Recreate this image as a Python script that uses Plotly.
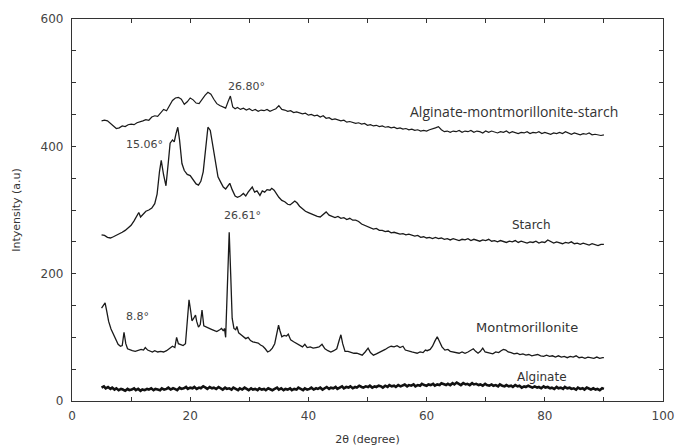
import plotly.graph_objects as go

# ---------------- data ----------------
ams_x = [5.0,5.5,6.0,6.5,7.0,7.5,8.0,8.5,9.0,9.5,10.0,10.5,11.0,11.5,12.0,12.5,13.0,13.5,14.0,14.5,
         15.0,15.5,16.0,16.5,17.0,17.5,18.0,18.5,19.0,19.5,20.0,20.5,21.0,21.5,22.0,22.5,23.0,23.5,24.0,24.5,
         25.0,25.5,26.0,26.4,26.8,27.2,27.6,28.0,28.5,29.0,29.5,30.0,30.5,31.0,31.5,32.0,32.5,33.0,33.5,34.0,
         34.5,35.0,35.5,36.0,36.5,37.0,37.5,38.0,38.5,39.0,39.5,40.0,40.5,41.0,41.5,42.0,42.5,43.0,43.5,44.0,
         44.5,45.0,45.5,46.0,46.5,47.0,47.5,48.0,48.5,49.0,49.5,50.0,50.5,51.0,51.5,52.0,52.5,53.0,53.5,54.0,
         54.5,55.0,55.5,56.0,56.5,57.0,57.5,58.0,58.5,59.0,59.5,60.0,60.5,61.0,61.5,62.0,62.5,63.0,63.5,64.0,
         64.5,65.0,65.5,66.0,66.5,67.0,67.5,68.0,68.5,69.0,69.5,70.0,70.5,71.0,71.5,72.0,72.5,73.0,73.5,74.0,
         74.5,75.0,75.5,76.0,76.5,77.0,77.5,78.0,78.5,79.0,79.5,80.0,80.5,81.0,81.5,82.0,82.5,83.0,83.5,84.0,
         84.5,85.0,85.5,86.0,86.5,87.0,87.5,88.0,88.5,89.0,89.5,90.0]
ams_y = [440,441,440,436,431,428,429,432,431,434,435,434,437,438,440,442,441,446,448,447,
         453,458,456,465,472,476,477,474,466,470,476,473,468,467,474,480,485,482,474,467,
         464,462,460,470,479,462,459,461,458,460,457,459,456,458,455,457,456,458,455,457,
         459,464,458,457,455,456,453,454,452,451,452,449,450,448,449,446,448,444,445,442,
         443,441,440,441,438,439,437,436,437,435,436,433,434,432,433,431,432,430,431,429,
         430,428,429,427,428,426,427,425,426,424,425,424,426,427,429,431,426,423,424,422,
         424,423,425,422,424,423,425,422,424,423,421,424,422,424,423,421,423,422,424,421,
         423,422,420,422,421,423,420,422,421,423,420,422,421,419,421,420,422,420,423,421,
         419,421,420,418,420,419,421,418,419,418,417,418]

starch_x = [5.0,5.5,6.0,6.5,7.0,7.5,8.0,8.5,9.0,9.5,10.0,10.5,11.0,11.3,11.6,12.0,12.5,13.0,13.5,14.0,
            14.4,14.8,15.1,15.5,15.9,16.3,16.6,17.0,17.3,17.6,17.9,18.2,18.6,19.0,19.5,20.0,20.5,21.0,21.4,21.8,
            22.2,22.6,23.0,23.4,23.9,24.3,24.7,25.2,25.6,26.0,26.4,26.7,27.1,27.6,28.0,28.5,29.0,29.4,29.8,30.2,
            30.5,30.9,31.3,31.8,32.2,32.6,33.0,33.5,33.8,34.2,34.6,35.0,35.5,36.0,36.5,36.9,37.3,37.7,38.1,38.5,
            39.0,39.5,40.0,40.5,41.0,41.5,42.0,42.5,43.0,43.5,44.0,44.5,45.0,45.5,46.0,46.5,47.0,47.5,48.0,48.5,
            49.0,49.5,50.0,50.5,51.0,51.5,52.0,52.5,53.0,53.5,54.0,54.5,55.0,55.5,56.0,56.5,57.0,57.5,58.0,58.5,
            59.0,59.5,60.0,60.5,61.0,61.5,62.0,62.5,63.0,63.5,64.0,64.5,65.0,65.5,66.0,66.5,67.0,67.5,68.0,68.5,
            69.0,69.5,70.0,70.5,71.0,71.5,72.0,72.5,73.0,73.5,74.0,74.5,75.0,75.5,76.0,76.5,77.0,77.5,78.0,78.5,
            79.0,79.5,80.0,80.5,81.0,81.5,82.0,82.5,83.0,83.5,84.0,84.5,85.0,85.5,86.0,86.5,87.0,87.5,88.0,88.5,
            89.0,89.5,90.0]
starch_y = [261,260,257,256,258,260,262,265,268,272,276,283,290,296,289,293,298,300,303,310,
            325,360,378,355,338,375,405,410,407,420,430,410,373,362,356,354,348,341,339,345,
            360,400,430,425,394,370,352,343,336,333,338,342,332,322,320,322,326,322,328,332,
            336,328,330,323,330,328,332,331,334,331,325,320,315,313,309,308,311,314,311,306,
            302,298,296,294,291,290,289,293,297,292,290,288,290,287,288,285,287,284,284,282,
            278,276,274,272,270,271,268,268,266,267,264,265,263,262,263,261,262,260,259,260,
            257,258,256,257,255,257,255,256,254,255,253,255,254,252,254,253,255,252,254,253,
            251,253,252,254,251,252,250,252,251,249,251,250,252,249,251,250,248,250,249,251,
            248,250,249,253,250,248,250,249,247,249,248,250,247,248,246,248,247,245,247,246,
            244,246,246]

mont_x = [5.0,5.3,5.6,5.9,6.2,6.6,7.0,7.4,7.8,8.2,8.5,8.8,9.1,9.4,9.8,10.2,10.7,11.2,11.7,12.1,
          12.4,12.8,13.2,13.6,14.0,14.5,15.0,15.5,16.0,16.5,17.0,17.4,17.7,18.0,18.4,18.8,19.2,19.5,19.8,20.1,
          20.3,20.6,20.9,21.1,21.4,21.7,22.0,22.3,22.7,23.1,23.5,24.0,24.5,25.0,25.3,25.6,25.8,26.0,26.3,26.6,
          26.85,27.1,27.4,27.7,27.9,28.2,28.6,29.0,29.4,29.8,30.2,30.6,31.0,31.5,31.9,32.3,32.7,33.1,33.5,33.9,
          34.3,34.7,34.95,35.2,35.5,35.9,36.3,36.6,37.0,37.5,38.0,38.5,39.0,39.4,39.8,40.3,40.8,41.3,41.8,42.3,
          42.8,43.3,43.8,44.3,44.8,45.2,45.5,45.8,46.2,46.7,47.2,47.7,48.2,48.7,49.1,49.6,50.1,50.5,51.0,51.5,
          52.0,52.5,53.0,53.5,54.0,54.5,55.0,55.5,56.0,56.4,57.0,57.5,58.0,58.4,58.9,59.4,59.8,60.1,60.6,61.0,
          61.4,61.8,62.2,62.6,63.1,63.6,64.0,64.5,65.0,65.5,66.0,66.5,67.0,67.5,67.9,68.3,68.7,69.1,69.5,69.9,
          70.4,70.8,71.2,71.7,72.2,72.6,73.0,73.4,73.8,74.3,74.8,75.3,75.8,76.3,76.8,77.3,77.8,78.3,78.8,79.3,
          79.8,80.3,80.8,81.3,81.8,82.3,82.8,83.3,83.8,84.3,84.8,85.3,85.8,86.3,86.8,87.3,87.8,88.3,88.8,89.3,
          89.8,90.0]
mont_y = [146,150,154,140,125,113,104,95,89,86,87,108,90,82,80,79,78,79,81,80,
          84,80,78,77,79,77,78,77,79,82,86,84,100,90,88,87,90,130,159,140,
          126,130,135,125,116,120,143,118,116,114,113,111,109,112,114,110,114,100,180,265,
          200,130,114,112,117,107,104,101,98,100,95,93,92,91,88,86,82,77,79,83,
          90,105,119,110,101,103,102,105,96,93,90,87,85,89,84,85,83,84,85,89,
          82,79,77,79,82,95,104,90,78,78,76,75,75,73,72,77,83,76,72,74,
          76,78,81,84,86,85,87,84,86,80,78,77,76,75,77,76,80,79,81,86,
          94,101,93,85,80,81,78,77,76,75,77,75,77,80,82,78,75,78,83,77,
          76,75,74,77,76,79,81,80,77,76,74,75,73,74,72,73,71,72,73,71,
          70,72,70,71,69,71,69,70,68,70,69,71,68,69,67,69,68,67,69,67,
          68,68]

alg_x = [5.0,5.4,5.7,6.1,6.5,6.8,7.2,7.5,7.9,8.3,8.6,9.0,9.4,9.7,10.1,10.5,10.8,11.2,11.6,11.9,
         12.3,12.7,13.0,13.4,13.8,14.1,14.5,14.9,15.2,15.6,16.0,16.3,16.7,17.1,17.4,17.8,18.2,18.5,18.9,19.3,
         19.6,20.0,20.4,20.7,21.1,21.5,21.8,22.2,22.6,22.9,23.3,23.7,24.0,24.4,24.8,25.1,25.5,25.9,26.2,26.6,
         27.0,27.3,27.7,28.1,28.4,28.8,29.2,29.5,29.9,30.3,30.6,31.0,31.4,31.7,32.1,32.5,32.8,33.2,33.6,33.9,
         34.3,34.7,35.0,35.4,35.8,36.1,36.5,36.9,37.2,37.6,38.0,38.3,38.7,39.1,39.4,39.8,40.2,40.5,40.9,41.3,
         41.6,42.0,42.4,42.7,43.1,43.5,43.8,44.2,44.6,44.9,45.3,45.7,46.0,46.4,46.8,47.1,47.5,47.9,48.2,48.6,
         49.0,49.3,49.7,50.1,50.4,50.8,51.2,51.5,51.9,52.3,52.6,53.0,53.4,53.7,54.1,54.5,54.8,55.2,55.6,55.9,
         56.3,56.7,57.0,57.4,57.8,58.1,58.5,58.9,59.2,59.6,60.0,60.3,60.7,61.1,61.4,61.8,62.2,62.5,62.9,63.3,
         63.6,64.0,64.4,64.7,65.1,65.5,65.8,66.2,66.6,66.9,67.3,67.7,68.0,68.4,68.8,69.1,69.5,69.9,70.2,70.6,
         71.0,71.3,71.7,72.1,72.4,72.8,73.2,73.5,73.9,74.3,74.6,75.0,75.4,75.7,76.1,76.5,76.8,77.2,77.6,77.9,
         78.3,78.7,79.0,79.4,79.8,80.1,80.5,80.9,81.2,81.6,82.0,82.3,82.7,83.1,83.4,83.8,84.2,84.5,84.9,85.3,
         85.6,86.0,86.4,86.7,87.1,87.5,87.8,88.2,88.6,88.9,89.3,89.7,90.0]
alg_y = [21,23,20,22,19,21,18,20,17,19,18,16,19,17,18,20,17,19,16,18,
         17,19,18,20,17,19,18,17,20,18,19,21,18,20,19,17,21,19,20,22,
         19,21,20,22,19,21,20,23,21,19,22,20,21,19,22,20,18,21,19,20,
         18,21,19,17,20,18,21,19,17,20,18,19,17,20,18,19,17,20,18,17,
         19,21,18,20,17,19,18,20,17,19,18,21,19,17,20,18,19,21,18,20,
         19,21,18,20,22,19,21,20,22,19,21,23,20,22,21,23,20,22,21,24,
         22,21,23,22,24,21,23,22,24,23,21,24,22,25,23,24,22,25,23,24,
         26,23,25,24,26,23,25,24,27,25,24,26,25,27,24,26,25,28,26,25,
         27,25,28,26,29,27,25,28,26,27,25,28,26,27,25,26,24,27,25,24,
         26,24,25,23,26,24,23,25,23,24,22,25,23,24,21,23,22,24,22,21,
         23,21,22,20,23,21,22,20,21,19,22,20,21,19,22,20,21,19,20,18,
         21,19,20,18,21,19,18,20,18,19,17,20,19]

series_names = ["Alginate-montmorillonite-starch", "Starch", "Montmorillonite", "Alginate"]
peak_labels = ["26.80°", "15.06°", "26.61°", "8.8°"]

# ---------------- figure ----------------
fig = go.Figure()
line_col = "#1a1a1a"
fig.add_trace(go.Scatter(x=ams_x, y=ams_y, mode="lines", name=series_names[0],
                         line=dict(color=line_col, width=1.2)))
fig.add_trace(go.Scatter(x=starch_x, y=starch_y, mode="lines", name=series_names[1],
                         line=dict(color=line_col, width=1.3)))
fig.add_trace(go.Scatter(x=mont_x, y=mont_y, mode="lines", name=series_names[2],
                         line=dict(color=line_col, width=1.3)))
fig.add_trace(go.Scatter(x=alg_x, y=alg_y, mode="lines", name=series_names[3],
                         line=dict(color="#111111", width=2.6)))

lab_font = dict(family="DejaVu Sans", size=11, color="#444444")

# peak annotations
for txt, (ax, ay) in zip(peak_labels, [(29.5, 494), (12.3, 403), (28.9, 292), (11.0, 132)]):
    fig.add_annotation(x=ax, y=ay, text=txt, showarrow=False, font=lab_font)

# series name annotations
for txt, (ax, ay), fam, fs in zip(series_names,
                                  [(74.8, 454), (77.8, 276), (77.0, 115), (79.5, 38)],
                                  ["Open Sans", "DejaVu Sans", "DejaVu Sans", "DejaVu Sans"],
                                  [14, 12, 13, 12]):
    fig.add_annotation(x=ax, y=ay, text=txt, showarrow=False,
                       font=dict(family=fam, size=fs, color="#333333"))

axis_common = dict(
    showgrid=False, zeroline=False, showline=True, linecolor="#333333", linewidth=1.3,
    mirror="ticks", ticks="inside", ticklen=4, tickcolor="#333333", tickwidth=1,
    tickfont=dict(family="DejaVu Sans", size=12, color="#444444"),
    automargin=False,
)

fig.update_xaxes(range=[0, 100], dtick=20, tick0=0, ticklabelstandoff=3,
                 minor=dict(dtick=10, ticks="inside", ticklen=4, tickcolor="#333333"),
                 title=dict(text="2θ (degree)", font=dict(family="DejaVu Sans", size=11, color="#333333"),
                            standoff=16),
                 **axis_common)
fig.update_yaxes(range=[0, 600], dtick=200, tick0=0, ticklabelstandoff=5,
                 minor=dict(dtick=50, ticks="inside", ticklen=4, tickcolor="#333333"),
                 title=dict(text="Intyensity (a.u)", font=dict(family="DejaVu Sans", size=11, color="#333333"),
                            standoff=17),
                 **axis_common)

fig.update_layout(
    width=676, height=446,
    margin=dict(l=72, r=13, t=19, b=45),
    paper_bgcolor="white", plot_bgcolor="white",
    showlegend=False,
)

fig.write_html("out.html")
